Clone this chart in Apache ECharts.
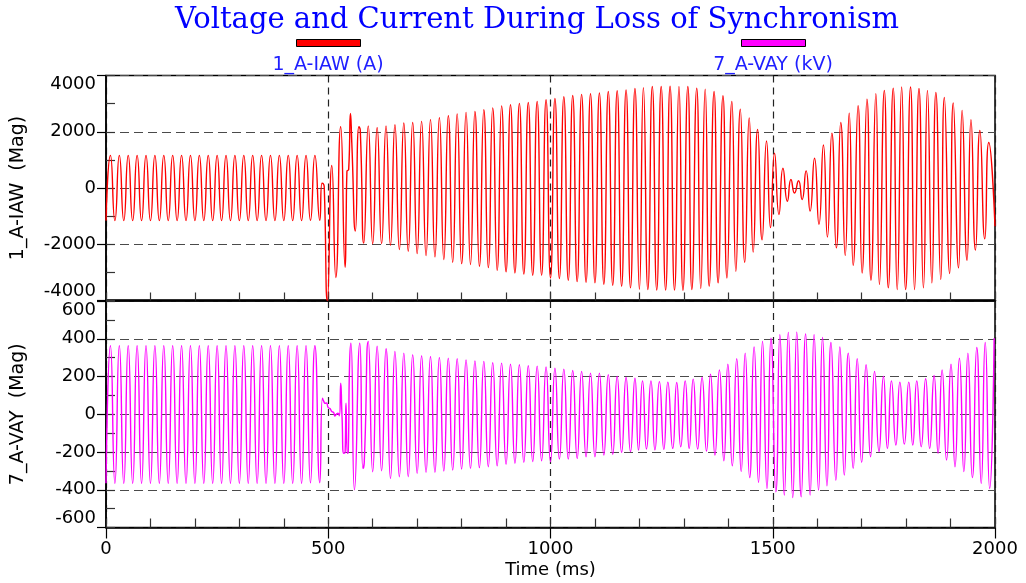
<!DOCTYPE html>
<html>
<head>
<meta charset="utf-8">
<script src="https://cdn.jsdelivr.net/npm/echarts@6/dist/echarts.min.js"></script>
<style>
html,body{margin:0;padding:0;background:#ffffff;}
#chart{width:1026px;height:583px;}
</style>
</head>
<body>
<div id="chart"></div>
<script>
// ---------------- data ----------------
const chartTitle = 'Voltage and Current During Loss of Synchronism';
const currentName = '1_A-IAW (A)';
const voltageName = '7_A-VAY (kV)';
const currentAxisName = '1_A-IAW  (Mag)';
const voltageAxisName = '7_A-VAY  (Mag)';
const timeAxisName = 'Time (ms)';

const timeTicks = [0, 500, 1000, 1500, 2000];
const currentTicks = [-4000, -2000, 0, 2000, 4000];
const voltageTicks = [-600, -400, -200, 0, 200, 400, 600];

// spacing (ms) between successive extrema in the steady parts
const HALF_PERIOD = 10;

// current: extrema 0..470 ms (trough first)
const iawPreStart = 0;
const iawPre = [
  -1160, 1160, -1160, 1160, -1160, 1160, -1160, 1160, -1160, 1160, -1160, 1160,
  -1160, 1160, -1160, 1160, -1160, 1160, -1160, 1160, -1160, 1160, -1160, 1160,
  -1160, 1160, -1160, 1160, -1160, 1160, -1160, 1160, -1160, 1160, -1160, 1160,
  -1160, 1160, -1160, 1160, -1160, 1160, -1160, 1160, -1160, 1160, -1150, 1160
];
// current: fault transient [ms, A]
const iawFault = [
  [481, -1150], [486, 170], [489, 150], [491, 30], [498, -4000], [508, 800],
  [517, -3180], [528, 2180], [538, -2820], [540, -1350], [542, 590], [546, 660],
  [550, 2650], [553, 1600], [561, -1530], [569, 2180], [572, 2060], [580, -1960]
];
// current: extrema 590..1200 ms (peak first)
const iawMidStart = 590;
const iawMid = [
  2210, -1980, 2150, -1980, 2210, -2040, 2250, -2190, 2310, -2250, 2330, -2330,
  2370, -2400, 2430, -2450, 2500, -2540, 2570, -2640, 2630, -2690, 2690, -2720,
  2720, -2780, 2780, -2830, 2850, -2930, 2920, -2980, 2960, -3020, 3010, -3060,
  3040, -3100, 3080, -3100, 3140, -3200, 3180, -3220, 3250, -3280, 3290, -3330,
  3330, -3350, 3350, -3370, 3380, -3420, 3430, -3460, 3460, -3490, 3490, -3550,
  3540, -3600
];
// current: pole slip and after [ms, A]
const iawLate = [
  [1209, 3570], [1219, -3610], [1229, 3610], [1239, -3630], [1249, 3610], [1259, -3630],
  [1269, 3620], [1279, -3630], [1289, 3610], [1298, -3640], [1309, 3610], [1318, -3610],
  [1329, 3550], [1338, -3570], [1348, 3510], [1357, -3490], [1368, 3430], [1377, -3370],
  [1388, 3280], [1397, -3200], [1408, 3080], [1417, -2960], [1427, 2800], [1437, -2640],
  [1447, 2490], [1456, -2280], [1466, 2080], [1476, -1840], [1486, 1670], [1495, -1410],
  [1504, 1240], [1514, -940], [1523, 700], [1533, -470], [1541, 300], [1549, -180],
  [1558, 260], [1566, -410], [1575, 610], [1584, -820], [1594, 1060], [1604, -1290],
  [1614, 1530], [1623, -1740], [1633, 1950], [1643, -2130], [1653, 2330], [1663, -2400],
  [1672, 2660], [1681, -2750], [1692, 2930], [1701, -3020], [1712, 3160], [1721, -3280],
  [1732, 3350], [1740, -3430], [1751, 3470], [1760, -3550], [1771, 3550], [1780, -3610],
  [1790, 3590], [1799, -3610], [1810, 3590], [1819, -3610], [1829, 3540], [1839, -3550],
  [1848, 3470], [1858, -3370], [1867, 3400], [1878, -3250], [1886, 3220], [1898, -3040],
  [1906, 3020], [1918, -2840], [1926, 2760], [1937, -2570], [1946, 2430], [1956, -2210],
  [1966, 2050], [1977, -1810], [1986, 1620], [2000, -1360]
];

// voltage: extrema 0..470 ms (trough first)
const vayPreStart = 0;
const vayPre = [
  -366, 363, -366, 363, -366, 363, -366, 363, -366, 363, -366, 363,
  -366, 363, -366, 363, -366, 363, -366, 363, -366, 363, -366, 363,
  -366, 363, -366, 363, -366, 363, -366, 363, -366, 363, -366, 363,
  -366, 363, -366, 363, -366, 363, -366, 363, -366, 363, -363, 363
];
// voltage: fault transient [ms, kV]
const vayFault = [
  [481, -363], [487, 85], [490, 68], [493, 58], [496, 60], [500, 35], [504, 30],
  [508, 14], [512, 10], [515, -9], [519, 2], [522, 5], [525, -8], [528, 165],
  [531, -12], [535, -207], [538, -200], [540, 58], [543, -207], [545, -200],
  [548, 270], [551, 377], [559, -400], [571, 377], [578, -287], [581, -255]
];
// voltage: extrema 590..1190 ms (peak first)
const vayMidStart = 590;
const vayMid = [
  386, -305, 360, -300, 347, -340, 333, -331, 324, -331, 315, -313,
  310, -308, 306, -308, 301, -301, 297, -296, 294, -290, 288, -287,
  283, -283, 280, -278, 273, -273, 271, -265, 265, -260, 262, -255,
  257, -251, 255, -246, 251, -251, 244, -237, 239, -237, 232, -234,
  227, -225, 218, -225, 218, -216, 209, -212, 200, -202, 195, -198, 191
];
// voltage: pole slip and after [ms, kV]
const vayLate = [
  [1198, -190], [1207, 177], [1216, -184], [1226, 177], [1235, -189], [1245, 173],
  [1255, -186], [1264, 170], [1275, -181], [1284, 168], [1293, -172], [1303, 177],
  [1312, -181], [1321, 186], [1331, -184], [1341, 195], [1351, -195], [1360, 212],
  [1370, -216], [1380, 235], [1390, -246], [1399, 265], [1409, -273], [1419, 294],
  [1429, -304], [1438, 324], [1448, -336], [1458, 356], [1468, -361], [1477, 386],
  [1487, -393], [1496, 403], [1507, -411], [1516, 421], [1526, -428], [1535, 434],
  [1545, -441], [1554, 435], [1564, -437], [1574, 425], [1584, -428], [1593, 421],
  [1603, -402], [1612, 407], [1622, -379], [1631, 380], [1642, -349], [1651, 356],
  [1661, -322], [1670, 324], [1681, -287], [1690, 294], [1700, -255], [1710, 262],
  [1720, -225], [1729, 227], [1739, -198], [1749, 200], [1758, -181], [1767, 177],
  [1777, -163], [1786, 170], [1796, -158], [1806, 170], [1815, -163], [1824, 177],
  [1834, -172], [1844, 188], [1853, -181], [1863, 205], [1872, -207], [1881, 235],
  [1891, -242], [1901, 265], [1910, -278], [1920, 297], [1930, -304], [1939, 324],
  [1949, -336], [1959, 354], [1969, -366], [1978, 380], [1988, -393], [1998, 403]
];

// ---------------- build series ----------------
function steady(start, values) {
  return values.map((v, i) => [start + i * HALF_PERIOD, v]);
}
const currentData = [].concat(
  steady(iawPreStart, iawPre), iawFault, steady(iawMidStart, iawMid), iawLate);
const voltageData = [].concat(
  steady(vayPreStart, vayPre), vayFault, steady(vayMidStart, vayMid), vayLate);

const SANS = 'DejaVu Sans';
const plain = v => String(v);
const axisFont = { fontFamily: SANS, fontSize: 18, color: '#000', formatter: plain };
const dashH = { color: '#4a4a4a', width: 1.2, type: [9, 5] };
const dashV = { color: '#222', width: 1.2, type: [7, 5] };

const tMin = timeTicks[0], tMax = timeTicks[timeTicks.length - 1];
const tStep = timeTicks[1] - timeTicks[0];
const cMin = currentTicks[0], cMax = currentTicks[currentTicks.length - 1];
const cStep = currentTicks[1] - currentTicks[0];
const vMin = voltageTicks[0], vMax = voltageTicks[voltageTicks.length - 1];
const vStep = voltageTicks[1] - voltageTicks[0];

const chart = echarts.init(document.getElementById('chart'), null, { renderer: 'canvas' });
chart.setOption({
  backgroundColor: '#ffffff',
  animation: false,
  title: [
    { text: chartTitle, left: 532, top: 1, textAlign: 'center',
      textStyle: { fontFamily: 'DejaVu Serif', fontSize: 29, fontWeight: 'normal', color: '#0000ff' } },
    { text: currentName, left: 323, top: 51, textAlign: 'center',
      textStyle: { fontFamily: SANS, fontSize: 19, fontWeight: 'normal', color: '#1f1fff' } },
    { text: voltageName, left: 768, top: 51, textAlign: 'center',
      textStyle: { fontFamily: SANS, fontSize: 19, fontWeight: 'normal', color: '#1f1fff' } }
  ],
  legend: [
    { data: [currentName], left: 296, top: 39, padding: 0, itemWidth: 64, itemHeight: 7,
      icon: 'rect', formatter: () => '', selectedMode: false,
      itemStyle: { borderColor: '#000', borderWidth: 1 } },
    { data: [voltageName], left: 741, top: 39, padding: 0, itemWidth: 64, itemHeight: 7,
      icon: 'rect', formatter: () => '', selectedMode: false,
      itemStyle: { borderColor: '#000', borderWidth: 1 } }
  ],
  grid: [
    { left: 106, right: 31, top: 75.5, height: 225, show: true, borderColor: '#000', borderWidth: 1.5, backgroundColor: 'transparent' },
    { left: 106, right: 31, top: 301, height: 226.5, show: true, borderColor: '#000', borderWidth: 1.5, backgroundColor: 'transparent' }
  ],
  xAxis: [
    { gridIndex: 0, type: 'value', position: 'bottom', min: tMin, max: tMax, interval: tStep,
      axisLine: { show: true, onZero: false, lineStyle: { color: '#000', width: 2.5 } },
      axisTick: { show: false }, axisLabel: { show: false },
      splitLine: { show: true, lineStyle: dashV } },
    { gridIndex: 0, type: 'value', position: 'bottom', min: tMin, max: tMax, interval: tStep / 5,
      axisLine: { show: false, onZero: false },
      axisTick: { show: true, inside: true, length: 8, lineStyle: { color: '#333', width: 1.2 } },
      axisLabel: { show: false }, splitLine: { show: false } },
    { gridIndex: 1, type: 'value', position: 'bottom', min: tMin, max: tMax, interval: tStep,
      name: timeAxisName, nameLocation: 'middle', nameGap: 34,
      nameTextStyle: { fontFamily: SANS, fontSize: 18, color: '#000' },
      axisLine: { show: true, onZero: false, lineStyle: { color: '#000', width: 1.5 } },
      axisTick: { show: true, inside: false, length: 11, lineStyle: { color: '#000', width: 1.2 } },
      axisLabel: Object.assign({ margin: 13 }, axisFont),
      splitLine: { show: true, lineStyle: dashV } },
    { gridIndex: 1, type: 'value', position: 'bottom', min: tMin, max: tMax, interval: tStep / 5,
      axisLine: { show: false, onZero: false },
      axisTick: { show: true, inside: true, length: 9, lineStyle: { color: '#333', width: 1.2 } },
      axisLabel: { show: false }, splitLine: { show: false } }
  ],
  yAxis: [
    { gridIndex: 0, type: 'value', position: 'left', min: cMin, max: cMax, interval: cStep,
      name: currentAxisName, nameLocation: 'middle', nameGap: 78,
      nameTextStyle: { fontFamily: SANS, fontSize: 19, color: '#000' },
      axisLine: { show: true, onZero: false, lineStyle: { color: '#000', width: 1.5 } },
      axisTick: { show: true, inside: false, length: 9, lineStyle: { color: '#000', width: 1.2 } },
      axisLabel: Object.assign({ margin: 10, verticalAlignMaxLabel: 'top', verticalAlignMinLabel: 'bottom' }, axisFont),
      splitLine: { show: true, lineStyle: dashH } },
    { gridIndex: 0, type: 'value', position: 'left', min: cMin, max: cMax, interval: cStep / 2,
      axisLine: { show: false, onZero: false },
      axisTick: { show: true, inside: true, length: 9, lineStyle: { color: '#333', width: 1.2 } },
      axisLabel: { show: false }, splitLine: { show: false } },
    { gridIndex: 1, type: 'value', position: 'left', min: vMin, max: vMax, interval: vStep,
      name: voltageAxisName, nameLocation: 'middle', nameGap: 78,
      nameTextStyle: { fontFamily: SANS, fontSize: 19, color: '#000' },
      axisLine: { show: true, onZero: false, lineStyle: { color: '#000', width: 1.5 } },
      axisTick: { show: true, inside: false, length: 9, lineStyle: { color: '#000', width: 1.2 } },
      axisLabel: Object.assign({ margin: 10, verticalAlignMaxLabel: 'top', verticalAlignMinLabel: 'bottom' }, axisFont),
      splitLine: { show: true, lineStyle: dashH } },
    { gridIndex: 1, type: 'value', position: 'left', min: vMin, max: vMax, interval: vStep / 2,
      axisLine: { show: false, onZero: false },
      axisTick: { show: true, inside: true, length: 9, lineStyle: { color: '#333', width: 1.2 } },
      axisLabel: { show: false }, splitLine: { show: false } }
  ],
  series: [
    { name: currentName, type: 'line', xAxisIndex: 0, yAxisIndex: 0, data: currentData,
      smooth: 0.6, showSymbol: false, clip: true,
      lineStyle: { color: '#ff0000', width: 1.4 }, itemStyle: { color: '#ff0000' }, z: 3 },
    { name: voltageName, type: 'line', xAxisIndex: 2, yAxisIndex: 2, data: voltageData,
      smooth: 0.6, showSymbol: false, clip: true,
      lineStyle: { color: '#ff00ff', width: 1.4 }, itemStyle: { color: '#ff00ff' }, z: 3 }
  ]
});
</script>
</body>
</html>
